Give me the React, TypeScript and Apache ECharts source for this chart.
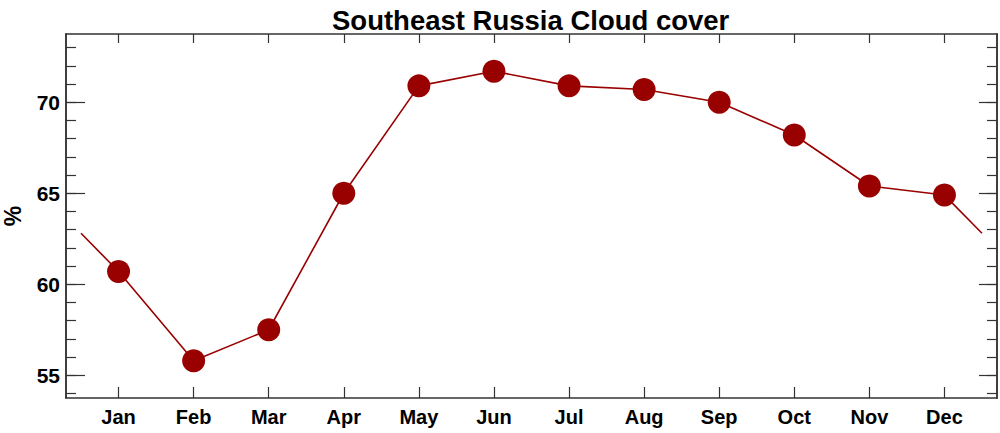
import React, { useEffect, useRef } from "react";
import * as echarts from "echarts";

const months = ["Jan", "Feb", "Mar", "Apr", "May", "Jun", "Jul", "Aug", "Sep", "Oct", "Nov", "Dec"];
const cloudCover = [60.7, 55.8, 57.5, 65.0, 70.9, 71.7, 70.9, 70.7, 70.0, 68.2, 65.4, 64.9];
const yMajorTicks = [55, 60, 65, 70];
const yMinorTicks = [54, 55, 56, 57, 58, 59, 60, 61, 62, 63, 64, 65, 66, 67, 68, 69, 70, 71, 72, 73];

export default function App() {
  const ref = useRef<HTMLDivElement>(null);
  useEffect(() => {
    document.body.style.margin = "0";
    const chart = echarts.init(ref.current!, null, { renderer: "svg" });
    const monthPos = months.map((_, i) => i + 1);
    const pts = cloudCover.map((v, i) => [i + 1, v]);
    const wrap = (cloudCover[0] + cloudCover[11]) / 2;
    const linePts = [[0.5, wrap], ...pts, [12.5, wrap]];
    const font = "'Liberation Sans', Arial, Helvetica, sans-serif";
    const axisLine = { show: true, lineStyle: { color: "#333", width: 1.5 } };
    const yBase = (position: "left" | "right", ticks: number[], len: number, labels: boolean, name?: string) => ({
      type: "value",
      position,
      min: 53.75,
      max: 73.75,
      axisLine,
      splitLine: { show: false },
      axisTick: { show: true, inside: true, length: len, customValues: ticks, lineStyle: { color: "#333", width: 1.2 } },
      axisLabel: labels
        ? { show: true, customValues: ticks, color: "#000", fontWeight: "bold", fontSize: 21, fontFamily: font, margin: 6 }
        : { show: false },
      name: name,
      nameLocation: "middle",
      nameGap: 42,
      nameRotate: 90,
      nameTextStyle: { color: "#000", fontWeight: "bold", fontSize: 23, fontFamily: font },
    });
    const xBase = (position: "top" | "bottom", len: number, labels: boolean) => ({
      type: "value",
      position,
      min: 0.3,
      max: 12.7,
      axisLine,
      splitLine: { show: false },
      axisTick: { show: true, inside: true, length: len, customValues: monthPos, lineStyle: { color: "#333", width: 1.2 } },
      axisLabel: labels
        ? {
            show: true,
            customValues: monthPos,
            formatter: (v: number) => months[Math.round(v) - 1] ?? "",
            color: "#000",
            fontWeight: "bold",
            fontSize: 20,
            fontFamily: font,
            margin: 9,
          }
        : { show: false },
    });
    chart.setOption({
      animation: false,
      backgroundColor: "#fff",
      title: {
        text: "Southeast Russia Cloud cover",
        left: 327,
        top: 1,
        textStyle: { color: "#000", fontWeight: "bold", fontSize: 27.5, fontFamily: font },
      },
      grid: { left: 66, right: 3, top: 34, bottom: 35, containLabel: false, outerBoundsMode: "none" },
      xAxis: [xBase("bottom", 11, true), xBase("top", 9, false)],
      yAxis: [
        yBase("left", yMajorTicks, 19, true, "%"),
        yBase("left", yMinorTicks, 10, false),
        yBase("right", yMajorTicks, 18, false),
        yBase("right", yMinorTicks, 10, false),
      ],
      series: [
        {
          type: "line",
          xAxisIndex: 0,
          yAxisIndex: 0,
          data: linePts,
          showSymbol: false,
          symbol: "none",
          lineStyle: { color: "#990000", width: 1.6 },
        },
        {
          type: "scatter",
          xAxisIndex: 0,
          yAxisIndex: 0,
          data: pts,
          symbol: "circle",
          symbolSize: 23,
          itemStyle: { color: "#990000", opacity: 1 },
        },
      ],
    });
    return () => chart.dispose();
  }, []);
  return <div ref={ref} style={{ width: 1000, height: 433 }} />;
}
